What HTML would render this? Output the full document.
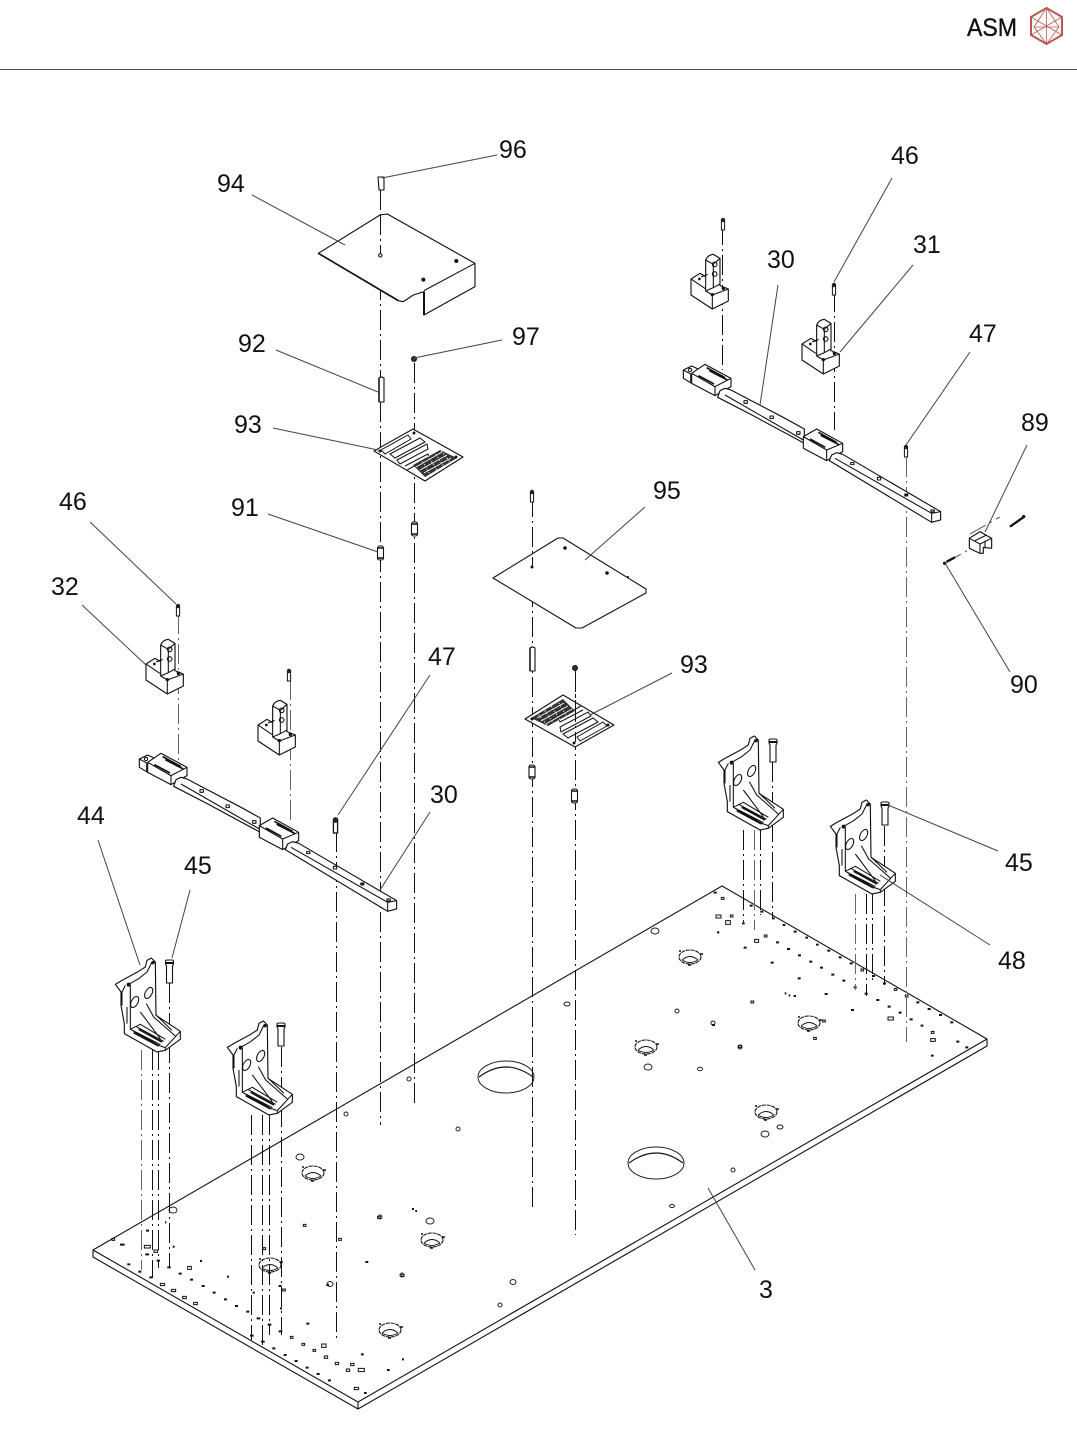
<!DOCTYPE html>
<html><head><meta charset="utf-8"><style>
html,body{margin:0;padding:0;background:#fff}
svg{display:block}
text{font-family:"Liberation Sans",sans-serif;font-size:25px;fill:#111}
.l{stroke:#444;stroke-width:1;fill:none}
.c{stroke:#111;stroke-width:1;fill:none;stroke-dasharray:20 4 2 4}
.g{stroke:#666;stroke-width:1;fill:none;stroke-dasharray:20 4 2 4}
.p{stroke:#111;stroke-width:1.1;fill:#fff;stroke-linejoin:round}
.z{stroke:#111;stroke-width:3.4;fill:#fff;stroke-linejoin:round}
.zn{stroke:#111;stroke-width:3.2;fill:none;stroke-linejoin:round}
.h{stroke:#222;stroke-width:1;fill:#fff}
.k{stroke:#111;stroke-width:1.200;fill:none}
</style></head><body>
<svg width="1077" height="1449" viewBox="0 0 1077 1449" xmlns="http://www.w3.org/2000/svg">
<defs>
<g id="br" transform="translate(700,730) scale(.3333)">
<path class="z" d="M55 97L75 85L125 58L145 45L150 25L163 18L175 30L177 190L250 238V262L205 295L180 300L82 245V215L72 160V120Z"/>
<path class="zn" d="M100 100V232L185 280L205 287L250 238M90 100L125 80L150 60L165 30M100 232L130 217L205 262M118 224L200 268M108 236L190 278M125 232L195 270M130 180L190 260M148 155L170 195L235 252M178 190L225 235M205 287V295M85 100L75 120V160M90 165V215"/>
<ellipse class="zn" cx="113" cy="150" rx="10" ry="18" transform="rotate(28 113 150)"/>
<ellipse class="zn" cx="155" cy="123" rx="10" ry="18" transform="rotate(28 155 123)"/>
<circle cx="95" cy="98" r="6" fill="#111"/><circle cx="168" cy="32" r="5" fill="#111"/>
<path d="M125 232L195 270M110 242L185 282" stroke="#111" stroke-width="5"/>
</g>
<g id="sc"><path class="p" d="M-4 1Q-4 0 -2 0H2Q4 0 4 1V4L3 6V23H-3V6L-4 4Z"/><path d="M-4 3H4" stroke="#111" stroke-width="2"/></g>
<g id="ss"><rect x="-1.600" y="1" width="3.200" height="9" fill="#fff" stroke="#111"/><circle r="2.200" fill="#222"/></g>
<g id="cp"><rect x="-3" y="-7" width="6" height="14" rx="2" fill="#fff" stroke="#111" stroke-width="1.100"/><path d="M-3 -5H3M-3 5H3" stroke="#111" stroke-width="1.500"/></g>
<g id="bk" transform="translate(120,600) scale(.3333)">
<path class="z" d="M78 192L105 175L122 185V135Q128 120 145 118L165 130V212L190 222V258L142 282L78 240Z"/>
<path class="zn" d="M78 192L122 222M122 185V228L142 240L190 222M142 240V282M122 135L145 148V218M145 148L165 130M145 218L165 207M122 228L145 218"/>
<circle class="zn" cx="149" cy="148" r="7"/><circle class="zn" cx="149" cy="177" r="7"/>
<circle cx="142" cy="239" r="5" fill="#111"/><circle cx="175" cy="220" r="5" fill="#111"/><circle cx="103" cy="192" r="4" fill="#111"/><path class="zn" d="M108 186L128 178"/>
</g>
<g id="rl" transform="translate(670,210) scale(.3333)">
<path class="z" d="M40 480L65 468L82 476V515L65 520L40 505Z"/>
<path class="zn" d="M40 480L62 492M62 492V517"/>
<circle class="zn" cx="60" cy="480" r="5"/>
<path class="z" d="M65 490L105 463L183 505V530L135 557L65 520Z"/>
<path class="zn" d="M65 490L135 530L183 505M135 530V557"/>
<path d="M110 473L165 503M118 482L172 510M85 497L132 522" stroke="#111" stroke-width="5" fill="none"/>
<path class="z" d="M143 562L150 542L165 535L183 540L240 570L345 625L403 657V700L240 612Z"/>
<path class="zn" d="M165 555L400 690"/>
<path class="z" d="M400 680L440 657L518 700V725L470 752L400 715Z"/>
<path class="zn" d="M400 680L470 720L518 700M470 720V752"/>
<path d="M445 667L500 697M452 676L507 704M420 687L466 712" stroke="#111" stroke-width="5" fill="none"/>
<path class="z" d="M478 752L485 735L500 728L518 733L812 905V930L785 937Z"/>
<path class="zn" d="M495 745L785 910V937M785 910L812 905"/>
<path class="zn" d="M222 572h10v8h-10zM300 618h10v8h-10zM380 665h10v8h-10zM542 758h10v6h-10zM622 802h10v8h-10zM783 900h10v6h-10z"/>
<path d="M703 855h12" stroke="#111" stroke-width="9"/>
</g>
<g id="pl">
<path class="p" d="M374 451L413 429L463 457L425 481Z"/>
<path d="M381 450L408 435L411 439L385 454ZM390 454L420 438L425 442L395 458ZM397 460L427 444L428 449L400 464ZM405 466L428 454L429 458L407 470" fill="#fff" stroke="#111" stroke-width="1"/>
<path d="M413 465L440 450L457 458L425 477Z" fill="#333"/>
<path d="M416 467L442 452M420 470L447 455M424 473L451 458" stroke="#fff" stroke-width=".8"/>
<path d="M421 459L431 476M428 456L438 472M434 452L445 468M441 451L451 463" stroke="#fff" stroke-width=".8" stroke-dasharray="1.500 1.500"/>
<circle cx="380" cy="451" r="1.500" fill="#111"/><circle cx="414" cy="433" r="1.500" fill="#111"/><circle cx="456" cy="457" r="1.500" fill="#111"/>
</g>
<g id="ms">
<ellipse rx="11" ry="7" fill="#fff" stroke="#111" stroke-width="1.100" stroke-dasharray="4 .8"/>
<path d="M-8 3Q0 -4 8 3M-8 3Q0 8 8 3" fill="none" stroke="#111" stroke-width="1"/>
<path d="M-11 -6h2M10 -3h3M-2 8h3" stroke="#111" stroke-width="1.500"/>
</g>
</defs>
<rect width="1077" height="1449" fill="#fff"/>
<path d="M0 69.500H1077" stroke="#555" stroke-width="1"/>
<text x="967" y="36" style="font-size:25px;stroke:#111;stroke-width:.35" textLength="50" lengthAdjust="spacingAndGlyphs">ASM</text>
<g fill="none" stroke="#b85a52" stroke-width="1.500"><path d="M1046.500 8L1062 17V35L1046.500 44L1031 35V17Z" stroke-width="2"/><path d="M1046.500 8L1034 27L1046.500 44L1059 27ZM1034 27H1059M1046.500 8V44M1031 17L1062 35M1062 17L1031 35" stroke-width=".8"/></g>

<!-- plate -->
<path class="p" d="M93 1250L722 886L987 1039V1046L358 1409L93 1257Z"/>
<path class="p" d="M93 1250L358 1402L987 1039M358 1402V1409" style="fill:none"/>
<g class="h">
<ellipse cx="506" cy="1077" rx="28" ry="16"/><path d="M479 1077Q506 1057 533 1077" stroke="#111" fill="none" stroke-width="1.100"/>
<ellipse cx="656" cy="1163" rx="28" ry="16"/><path d="M629 1163Q656 1143 683 1163" stroke="#111" fill="none" stroke-width="1.100"/>
<ellipse cx="655" cy="931" rx="4" ry="3"/><ellipse cx="567" cy="1004" rx="3" ry="2"/><ellipse cx="648" cy="1067" rx="4" ry="3"/><ellipse cx="765" cy="1134" rx="4" ry="3"/><ellipse cx="780" cy="1127" rx="3" ry="2"/><ellipse cx="700" cy="1069" rx="2.500" ry="1.800"/><ellipse cx="300" cy="1157" rx="4" ry="3"/><ellipse cx="430" cy="1221" rx="4" ry="3"/><ellipse cx="173" cy="1210" rx="4" ry="3"/><ellipse cx="513" cy="1282" rx="3" ry="2.500"/><ellipse cx="330" cy="1284" rx="3" ry="2.500"/><ellipse cx="500" cy="1305" rx="2" ry="2"/><ellipse cx="733" cy="1170" rx="2" ry="2"/><ellipse cx="672" cy="1206" rx="2.500" ry="1.500"/><ellipse cx="740" cy="1047" rx="2" ry="2"/><ellipse cx="677" cy="1011" rx="2" ry="2"/><ellipse cx="713" cy="1023" rx="2" ry="2"/><ellipse cx="409" cy="1079" rx="2" ry="2"/><ellipse cx="346" cy="1114" rx="2" ry="2"/><ellipse cx="458" cy="1129" rx="2" ry="2"/><ellipse cx="380" cy="1217" rx="2" ry="2"/><ellipse cx="402" cy="1275" rx="2" ry="2"/>
</g>
<g>
<use href="#ms" x="690" y="957"/><use href="#ms" x="809" y="1023"/><use href="#ms" x="646" y="1047"/><use href="#ms" x="766" y="1112"/><use href="#ms" x="313" y="1173"/><use href="#ms" x="432" y="1240"/><use href="#ms" x="270" y="1265"/><use href="#ms" x="390" y="1330"/>
</g>
<g transform="translate(700,880) scale(.3333)">
<path stroke="#111" stroke-width="6" fill="none" d="M41 38h9M51 157h7M126 130h8M149 77h9M181 95h9M216 115h8M248 135h8M281 155h9M316 173h8M348 194h8M382 212h9M416 232h9M449 250h9M516 288h9M549 310h9M649 367h9M683 387h9M717 405h9M751 427h9M796 502h9M769 485h9M693 527h8M662 437h8M629 418h9M596 398h9M563 380h9M529 360h9M494 341h9M453 390h9M427 302h9M394 284h9M360 263h9M328 245h9M294 226h9M261 207h9M228 187h9M131 203h9M212 248h9M293 295h9M374 342h9M461 322h9M254 340h5M266 346h5M281 348h7M36 435h9"/>
<path stroke="#111" stroke-width="3" fill="none" d="M64 52h8v6h-8zM91 105h8v6h-8zM193 165h8v6h-8zM153 363h8v6h-8zM117 497h8v6h-8zM341 472h8v6h-8zM368 420h8v6h-8zM483 267h8v6h-8zM583 325h8v6h-8zM616 345h8v6h-8zM694 454h8v6h-8zM692 476h14v8h-14zM564 411h16v9h-16zM164 178h12v9h-12zM77 122h14v11h-14zM48 105h15v9h-15z"/>
</g>
<g transform="translate(90,1200) scale(.3333)">
<path stroke="#111" stroke-width="6" fill="none" d="M90 134h14M112 193h9M145 215h9M168 92h9M166 163h11M178 232h9M200 182h10M232 202h10M225 67h4M266 221h9M300 239h9M335 258h9M368 278h9M402 298h9M435 318h9M469 335h9M500 355h11M533 374h11M566 394h11M480 407h11M513 425h11M547 445h9M581 465h9M614 483h9M647 503h9M680 522h9M714 541h9M822 579h8M891 510h8M936 478h6M813 463h8M649 371h9M488 278h6M566 258h9M709 255h8M966 27h6M976 33h5M826 186h9M411 230h6M330 183h6M248 140h6M570 325h6"/>
<path stroke="#111" stroke-width="3" fill="none" d="M66 115h8v6h-8zM163 136h18v8h-18zM192 150h11v7h-11zM293 199h11v9h-11zM211 250h13v7h-13zM244 268h13v7h-13zM278 289h11v7h-11zM311 307h11v7h-11zM601 409h8v6h-8zM636 430h8v6h-8zM669 448h8v6h-8zM703 468h10v7h-10zM736 487h10v7h-10zM769 507h10v7h-10zM782 490h10v7h-10zM805 505h18v10h-18zM695 432h13v10h-13zM793 562h13v7h-13zM863 49h8v6h-8zM746 115h8v6h-8zM640 73h8v6h-8zM934 224h8v6h-8zM578 267h8v6h-8zM519 143h8v6h-8z"/>
</g>

<!-- centre lines -->
<path class="c" d="M380.500 190V378M380.500 402V1125M414.500 363V1105M532.500 497V1210M575.500 670V1235M336.500 832V1340M722.500 225V370M834.500 292V430M152.500 1050V1278M158.500 1050V1268M169.500 983V1268M251.500 1115V1340M262.500 1115V1345M269.500 1115V1335M281.500 1047V1335M743.500 830V922M760.500 830V915M772.500 762V918M866.500 894V996M872.500 894V982M884.500 826V985"/>
<path class="g" d="M906.500 457V1042M178.500 614V760M290.500 680V820M141.500 1050V1270M754.500 830V930M855.500 894V990"/>
<path class="l" d="M970 534L1000 517M945 563L972 548" stroke-dasharray="18 5 2 5"/>

<!-- cover 94 -->
<g transform="translate(300,170) scale(.3333)">
<path class="z" d="M55 250L240 135L262 132L525 280V350L372 435V365L340 375L310 395L295 392Z"/>
<path class="zn" d="M525 280L372 362"/>
<path d="M55 250L295 392" stroke="#111" stroke-width="5" fill="none"/><path d="M372 365V435" stroke="#111" stroke-width="6"/>
<circle class="zn" cx="241" cy="256" r="5"/><circle cx="370" cy="329" r="6" fill="#111"/><circle cx="469" cy="273" r="6" fill="#111"/>
</g>
<path class="c" d="M380.500 215V253"/>

<!-- small parts -->
<path class="p" d="M378 177H384V190H379Z"/>
<path class="p" d="M379 378Q381 376 384 378V402H379Z"/><path d="M379 378V402" stroke="#111" stroke-width="1.500"/>
<path class="p" d="M530 648Q532 646 535 648V671H530Z"/><path d="M530 648V671" stroke="#111" stroke-width="1.500"/>
<use href="#cp" x="380.500" y="553"/><use href="#cp" x="414.500" y="529"/><use href="#cp" x="532" y="772"/><use href="#cp" x="574.500" y="796"/>
<circle cx="414" cy="359" r="2.500" fill="#333" stroke="#111"/><circle cx="575" cy="668" r="2.500" fill="#333" stroke="#111"/>
<use href="#pl"/><use href="#pl" transform="translate(569,721) rotate(180) translate(-419,-455)"/>
<path class="c" d="M575.500 672V742"/>
<path class="p" d="M493 578L558 538L563 538L646 589L646 593L582 628L576 628Z"/>
<g fill="#111"><circle cx="565" cy="548" r="1.800"/><circle cx="607" cy="573" r="1.800"/><circle cx="532" cy="567" r="1.500"/><circle cx="628" cy="577" r="1"/></g>
<path class="c" d="M532.500 497V566"/>

<!-- rails + blocks -->
<use href="#rl"/><use href="#rl" transform="translate(-544,389)"/>
<use href="#bk"/><use href="#bk" transform="translate(112,61)"/><use href="#bk" transform="translate(656,-320)"/><use href="#bk" transform="translate(545,-385)"/>
<path class="c" d="M834.500 292V347M722.500 225V272"/>
<use href="#ss" x="723" y="220"/><use href="#ss" x="834" y="285"/><use href="#ss" x="906" y="447"/><use href="#ss" x="178" y="606"/><use href="#ss" x="289" y="671"/><use href="#ss" x="532" y="492"/>
<use href="#ss" transform="translate(335.500,820) scale(1.300)"/>

<!-- 89 -->
<g transform="translate(930,500) scale(.3333)">
<path class="z" d="M118 115L150 95L185 115V145L160 142V160L150 160L118 145Z"/>
<path class="zn" d="M118 115L150 132V160M150 132L185 115M165 122V145M135 122L170 105"/>
<path d="M240 80L280 52" stroke="#111" stroke-width="7"/><circle cx="281" cy="50" r="5" fill="#111"/>
<path d="M50 185L75 172" stroke="#111" stroke-width="7"/><circle cx="44" cy="190" r="5" fill="#111"/>
</g>

<!-- brackets -->
<use href="#br"/><use href="#br" transform="translate(112,64)"/><use href="#br" transform="translate(-603,222)"/><use href="#br" transform="translate(-491,285)"/>
<use href="#sc" x="169.500" y="960"/><use href="#sc" x="281" y="1023"/><use href="#sc" x="773" y="739"/><use href="#sc" x="885" y="802"/>

<!-- leaders -->
<path class="l" d="M382 178L497 155M252 195L345 245M892 178L834 282M913 265L840 352M778 285L760 405M276 350L378 392M414 358L502 340M970 352L906 445M273 428L378 450M1027 445L985 532M268 514L378 552M90 522L176 604M645 507L585 560M82 605L146 665M1010 672L945 563M430 675L338 815M672 673L590 715M430 812L380 890M98 840L140 965M190 890L172 958M998 851L888 805M990 945L880 875M755 1270L708 1188"/>

<!-- labels -->
<text x="499" y="158">96</text><text x="217" y="192">94</text><text x="891" y="164">46</text><text x="913" y="253">31</text><text x="767" y="268">30</text><text x="238" y="352">92</text><text x="512" y="345">97</text><text x="969" y="342">47</text><text x="234" y="433">93</text><text x="1021" y="431">89</text><text x="231" y="516">91</text><text x="59" y="510">46</text><text x="653" y="499">95</text><text x="51" y="595">32</text><text x="1010" y="693">90</text><text x="428" y="665">47</text><text x="680" y="673">93</text><text x="430" y="803">30</text><text x="77" y="824">44</text><text x="184" y="874">45</text><text x="1005" y="871">45</text><text x="998" y="969">48</text><text x="759" y="1298">3</text>
</svg>
</body></html>
